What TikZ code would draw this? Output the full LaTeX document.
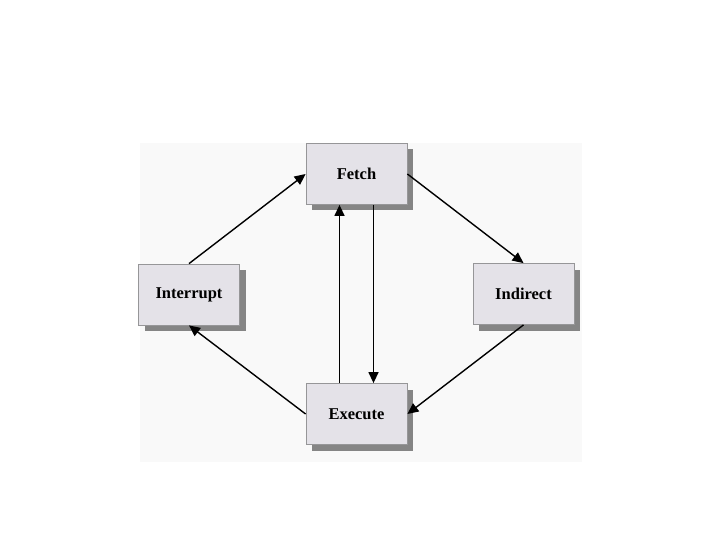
\documentclass[tikz,border=0pt]{standalone}
\usepackage{fontspec}
\setmainfont{Liberation Serif}
\usetikzlibrary{arrows.meta,shadows}

\definecolor{boxfill}{RGB}{228,226,232}
\definecolor{boxline}{RGB}{150,150,152}
\definecolor{panel}{RGB}{249,249,249}

\tikzset{
  stage/.style={draw=boxline,fill=boxfill,line width=0.8pt,
    minimum width=101pt,minimum height=61pt,inner sep=0pt,
    font=\fontsize{16.5}{18}\selectfont\bfseries,
    drop shadow={shadow xshift=6pt,shadow yshift=-6pt,fill=black!48,opacity=1}},
  flow/.style={line width=1.4pt,-{Triangle[length=11pt,width=10pt]}}
}

\begin{document}
\begin{tikzpicture}[x=1pt,y=-1pt]
  \useasboundingbox (0,0) rectangle (720,540);
  \fill[panel] (140,143) rectangle (582,462);

  \node[stage] (fetch) at (356.5,174) {Fetch};
  \node[stage] (intr) at (189,294.5) {Interrupt};
  \node[stage] (ind) at (523.5,294) {Indirect};
  \node[stage] (exec) at (356.5,414) {Execute};

  \draw[flow] (intr.north) -- (fetch.west);
  \draw[flow] (fetch.east) -- (ind.north);
  \draw[flow] (ind.south) -- (exec.east);
  \draw[flow] (exec.west) -- (intr.south);
  \draw[flow] ([xshift=-17pt]exec.north) -- ([xshift=-17pt]fetch.south);
  \draw[flow] ([xshift=17pt]fetch.south) -- ([xshift=17pt]exec.north);
\end{tikzpicture}
\end{document}
